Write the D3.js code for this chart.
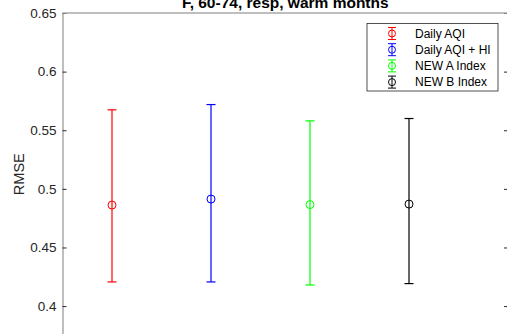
<!DOCTYPE html>
<html>
<head>
<meta charset="utf-8">
<script src="https://cdn.jsdelivr.net/npm/d3@7"></script>
<style>
  html, body { margin: 0; padding: 0; background: #fff; }
  svg { display: block; font-family: "Liberation Sans", Arial, sans-serif; }
</style>
</head>
<body>
<div id="chart"></div>
<script>
// chart values
const series = ["Daily AQI", "Daily AQI + HI", "NEW A Index", "NEW B Index"];
const xPos = [1, 2, 3, 4];
const means = [0.4862, 0.4913, 0.4866, 0.4870];
const upper = [0.5674, 0.5719, 0.5580, 0.5600];
const lower = [0.4206, 0.4206, 0.4180, 0.4192];
const colors = ["#ff0000", "#0000ff", "#00ff00", "#000000"];
const yTicks = [0.4, 0.45, 0.5, 0.55, 0.6, 0.65];
const title = "F, 60-74, resp, warm months";

const width = 507, height = 334;
const margin = { top: 13, left: 62.5, right: -1, bottom: -1.4 };

const svg = d3.select("#chart").append("svg")
    .attr("width", width)
    .attr("height", height);

const x = d3.scaleLinear()
    .domain([0.5, 5])
    .range([margin.left, width - margin.right]);
const y = d3.scaleLinear()
    .domain([0.375, 0.65])
    .range([height - margin.bottom, margin.top]);

// axes (MATLAB style: inward ticks, box)
const axisColor = "#a8a8a8";
const left = svg.append("g")
    .attr("transform", `translate(${margin.left},0)`)
    .call(d3.axisLeft(y).tickValues(yTicks).tickSizeInner(-4).tickSizeOuter(0).tickPadding(6)
        .tickFormat(d => String(+d.toFixed(2))));
left.select(".domain").attr("stroke", axisColor).attr("stroke-width", 1.5);
left.selectAll(".tick line").attr("stroke", "#262626");
left.selectAll(".tick text").attr("fill", "#262626").style("font-size", "13.5px");

const right = svg.append("g")
    .attr("transform", `translate(${width - margin.right},0)`)
    .call(d3.axisRight(y).tickValues(yTicks).tickSizeInner(-4).tickSizeOuter(0).tickFormat(""));
right.select(".domain").attr("stroke", axisColor).attr("stroke-width", 1.5);
right.selectAll(".tick line").attr("stroke", "#262626");

svg.append("line")
    .attr("x1", margin.left).attr("x2", width - margin.right)
    .attr("y1", y(0.65)).attr("y2", y(0.65))
    .attr("stroke", axisColor).attr("stroke-width", 1.5);

// title and y label
svg.append("text")
    .attr("x", (x.range()[0] + x.range()[1]) / 2)
    .attr("y", 7.7)
    .attr("text-anchor", "middle")
    .style("font-size", "15.5px")
    .style("font-weight", "bold")
    .attr("fill", "#000")
    .text(title);

svg.append("text")
    .attr("transform", `translate(23.5,${(y.range()[0] + y.range()[1]) / 2}) rotate(-90)`)
    .attr("text-anchor", "middle")
    .style("font-size", "14.5px")
    .attr("fill", "#262626")
    .text("RMSE");

// error bars
const capW = 4.5;
const bars = svg.append("g").selectAll("g")
    .data(series)
    .enter()
    .append("g")
    .attr("stroke", (_, i) => colors[i])
    .attr("fill", "none")
    .attr("stroke-width", 1.2);

bars.append("line")
    .attr("x1", (_, i) => x(xPos[i])).attr("x2", (_, i) => x(xPos[i]))
    .attr("y1", (_, i) => y(upper[i])).attr("y2", (_, i) => y(lower[i]));
bars.append("line")
    .attr("x1", (_, i) => x(xPos[i]) - capW).attr("x2", (_, i) => x(xPos[i]) + capW)
    .attr("y1", (_, i) => y(upper[i])).attr("y2", (_, i) => y(upper[i]));
bars.append("line")
    .attr("x1", (_, i) => x(xPos[i]) - capW).attr("x2", (_, i) => x(xPos[i]) + capW)
    .attr("y1", (_, i) => y(lower[i])).attr("y2", (_, i) => y(lower[i]));
bars.append("circle")
    .attr("cx", (_, i) => x(xPos[i]))
    .attr("cy", (_, i) => y(means[i]))
    .attr("r", 4)
    .attr("stroke-width", 1)
    .attr("fill", "none");

// legend
const legend = svg.append("g").attr("transform", "translate(367,23.5)");
legend.append("rect")
    .attr("width", 131).attr("height", 67.5)
    .attr("fill", "#fff").attr("stroke", "#262626").attr("stroke-width", 0.8);

const items = legend.selectAll("g.item")
    .data(series)
    .enter()
    .append("g")
    .attr("class", "item")
    .attr("transform", (_, i) => `translate(0,${10 + i * 16.2})`);

items.append("line")
    .attr("x1", 25).attr("x2", 25).attr("y1", -6).attr("y2", 6)
    .attr("stroke", (_, i) => colors[i]);
items.append("line")
    .attr("x1", 21).attr("x2", 29).attr("y1", -6).attr("y2", -6)
    .attr("stroke", (_, i) => colors[i]);
items.append("line")
    .attr("x1", 21).attr("x2", 29).attr("y1", 6).attr("y2", 6)
    .attr("stroke", (_, i) => colors[i]);
items.append("circle")
    .attr("cx", 25).attr("cy", 0).attr("r", 3.5)
    .attr("fill", "none")
    .attr("stroke", (_, i) => colors[i]);
items.append("text")
    .attr("x", 48).attr("y", 4)
    .style("font-size", "12px")
    .attr("fill", "#000")
    .text(d => d);
</script>
</body>
</html>
